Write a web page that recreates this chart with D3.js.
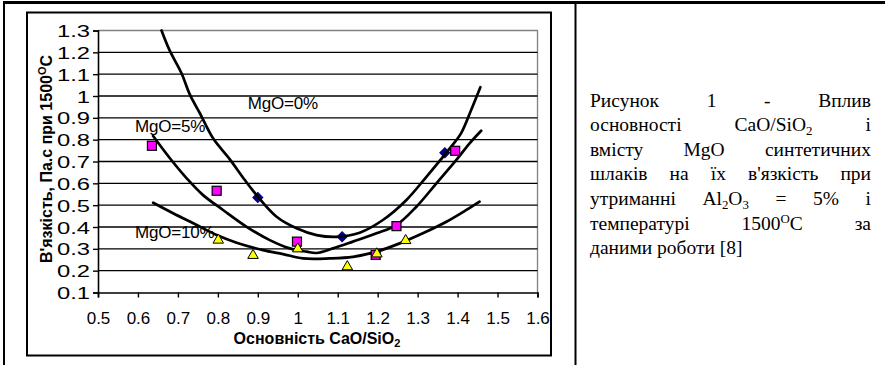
<!DOCTYPE html>
<html><head><meta charset="utf-8">
<script src="https://cdn.jsdelivr.net/npm/d3@7"></script>
<style>body{margin:0;background:#fff}svg{display:block}</style>
</head><body>
<script>
// ---- data ----
const xTicks = [0.5,0.6,0.7,0.8,0.9,1,1.1,1.2,1.3,1.4,1.5,1.6];
const yTicks = [0.1,0.2,0.3,0.4,0.5,0.6,0.7,0.8,0.9,1,1.1,1.2,1.3];

const mg0X = [0.9, 1.111, 1.368];
const mg0Y = [0.535, 0.355, 0.74];
const mg5X = [0.635, 0.797, 0.998, 1.195, 1.247, 1.394];
const mg5Y = [0.772, 0.566, 0.333, 0.272, 0.404, 0.749];
const mg10X = [0.801, 0.888, 1.0, 1.124, 1.198, 1.27];
const mg10Y = [0.34, 0.27, 0.30, 0.218, 0.277, 0.338];

const curve0X = [0.659,0.679,0.709,0.73,0.755,0.788,0.83,0.8675,0.9,0.947,0.997,1.047,1.097,1.155,1.213,1.272,1.322,1.384,1.409,1.434,1.457];
const curve0Y = [1.30,1.21,1.104,1.006,0.921,0.806,0.71,0.615,0.539,0.447,0.394,0.363,0.355,0.374,0.432,0.524,0.63,0.768,0.83,0.936,1.04];
const curve5X = [0.638,0.68,0.722,0.763,0.813,0.872,0.93,0.98,1.022,1.047,1.088,1.138,1.197,1.247,1.297,1.347,1.397,1.43,1.459];
const curve5Y = [0.817,0.715,0.623,0.546,0.478,0.401,0.34,0.302,0.287,0.281,0.302,0.333,0.371,0.409,0.493,0.6,0.707,0.783,0.841];
const curve10X = [0.638,0.688,0.747,0.797,0.847,0.913,0.963,1.013,1.08,1.138,1.197,1.255,1.313,1.372,1.422,1.455];
const curve10Y = [0.511,0.463,0.409,0.363,0.328,0.294,0.276,0.256,0.256,0.263,0.287,0.325,0.371,0.424,0.478,0.516];

const seriesLabels = ["MgO=0%", "MgO=5%", "MgO=10%"];
const labelX = [0.875, 0.5925, 0.5925];
const labelY = [0.94, 0.835, 0.35];

const xTitle = ["Основність CaO/SiO", "2"];
const yTitle = ["В'язкість, Па.с при 1500", "O", "C"];

// caption words; "_" = subscript next char, "^" = superscript next char
const captionLines = [
  ["Рисунок","1","-","Вплив"],
  ["основності","CaO/SiO_2","і"],
  ["вмісту","MgO","синтетичних"],
  ["шлаків","на","їх","в'язкість","при"],
  ["утриманні","Al_2O_3","=","5%","і"],
  ["температурі","1500^OC","за"],
  ["даними","роботи","[8]"]
];

// ---- layout ----
const W = 885, H = 365;
const svg = d3.select("body").append("svg").attr("width", W).attr("height", H)
  .style("background", "#fff");

// table lines
svg.append("line").attr("x1", 3).attr("x2", W).attr("y1", 2.5).attr("y2", 2.5).attr("stroke", "#000").attr("stroke-width", 3);
svg.append("line").attr("x1", 4).attr("x2", 4).attr("y1", 1).attr("y2", H).attr("stroke", "#000").attr("stroke-width", 2);
svg.append("line").attr("x1", 575.5).attr("x2", 575.5).attr("y1", 1).attr("y2", H).attr("stroke", "#000").attr("stroke-width", 2);

// chart frame
svg.append("rect").attr("x", 27).attr("y", 12.5).attr("width", 524).attr("height", 343)
  .attr("fill", "#fff").attr("stroke", "#000").attr("stroke-width", 2);

const pL = 98, pR = 537.5, pT = 30.5, pB = 292.5;
const x = d3.scaleLinear().domain([0.5, 1.6]).range([pL, pR]);
const y = d3.scaleLinear().domain([0.1, 1.3]).range([pB, pT]);

// plot area border (gray)
svg.append("path").attr("d", `M${pL},${pT}H${pR}V${pB}`)
  .attr("fill", "none").attr("stroke", "#808080").attr("stroke-width", 1.3);

// gridlines
svg.append("g").selectAll("line").data(yTicks.filter(v => v > 0.1 && v < 1.3)).join("line")
  .attr("x1", pL).attr("x2", pR)
  .attr("y1", d => y(d)).attr("y2", d => y(d))
  .attr("stroke", "#000").attr("stroke-width", 1.4);

// axes
const font = "Liberation Sans";
const fmt = d => String(+d.toFixed(1));
const yAxis = svg.append("g").attr("transform", `translate(${pL},0)`)
  .call(d3.axisLeft(y).tickValues(yTicks).tickSize(5).tickPadding(3).tickFormat(fmt));
const xAxis = svg.append("g").attr("transform", `translate(0,${pB})`)
  .call(d3.axisBottom(x).tickValues(xTicks).tickSize(5).tickPadding(14).tickFormat(fmt));
[xAxis, yAxis].forEach(g => {
  g.attr("font-family", font).attr("font-size", 17);
  g.select(".domain").attr("stroke", "#000").attr("stroke-width", 1.6);
  g.selectAll(".tick line").attr("stroke", "#000").attr("stroke-width", 1.4);
  g.selectAll("text").attr("fill", "#000");
});
const ySx = 1.4;
yAxis.selectAll("text").attr("dy", "0.36em").attr("x", -8 / ySx).attr("transform", `scale(${ySx},1)`);

// diamonds (MgO=0%)
const sq = d3.symbol(d3.symbolSquare, 50);
svg.append("g").selectAll("path").data(d3.range(mg0X.length)).join("path")
  .attr("d", sq)
  .attr("transform", i => `translate(${x(mg0X[i])},${y(mg0Y[i])}) rotate(45)`)
  .attr("fill", "#000080").attr("stroke", "#000080").attr("stroke-width", 1);

// trend curves
const line = d3.line().x(d => x(d[0])).y(d => y(d[1])).curve(d3.curveCatmullRom.alpha(0.5));
[[curve0X, curve0Y], [curve5X, curve5Y], [curve10X, curve10Y]].forEach(([cx, cy]) => {
  svg.append("path").attr("d", line(cx.map((v, i) => [v, cy[i]])))
    .attr("fill", "none").attr("stroke", "#000").attr("stroke-width", 2.7)
    .attr("stroke-linejoin", "round").attr("stroke-linecap", "round");
});

// squares (MgO=5%)
svg.append("g").selectAll("rect").data(d3.range(mg5X.length)).join("rect")
  .attr("x", i => x(mg5X[i]) - 4.5).attr("y", i => y(mg5Y[i]) - 4.5)
  .attr("width", 9).attr("height", 9)
  .attr("fill", "#ff00ff").attr("stroke", "#000").attr("stroke-width", 1.2);

// triangles (MgO=10%)
const tri = d3.symbol(d3.symbolTriangle, 48);
svg.append("g").selectAll("path").data(d3.range(mg10X.length)).join("path")
  .attr("d", tri)
  .attr("transform", i => `translate(${x(mg10X[i])},${y(mg10Y[i])})`)
  .attr("fill", "#ffff00").attr("stroke", "#000").attr("stroke-width", 1);

// series labels
svg.append("g").selectAll("text").data(seriesLabels).join("text")
  .attr("x", (d, i) => x(labelX[i])).attr("y", (d, i) => y(labelY[i]))
  .attr("font-family", font).attr("font-size", 17).attr("letter-spacing", -0.2).text(d => d);

// axis titles
const xt = svg.append("text").attr("x", 317).attr("y", 344).attr("text-anchor", "middle")
  .attr("font-family", font).attr("font-size", 16).attr("font-weight", "bold");
xt.append("tspan").text(xTitle[0]);
xt.append("tspan").attr("font-size", 11).attr("dy", 3).text(xTitle[1]);

const yt = svg.append("text").attr("transform", "translate(52,159) rotate(-90)").attr("text-anchor", "middle")
  .attr("font-family", font).attr("font-size", 16).attr("font-weight", "bold");
yt.append("tspan").text(yTitle[0]);
yt.append("tspan").attr("font-size", 11).attr("dy", -6).text(yTitle[1]);
yt.append("tspan").attr("dy", 6).text(yTitle[2]);

// caption (justified)
const capFont = "Liberation Serif";
const capSize = 19.5, capLeft = 590, capRight = 871, capTop = 106.5, capLead = 24.6;
function buildWord(g, w) {
  const t = g.append("text").attr("font-family", capFont).attr("font-size", capSize).attr("fill", "#000");
  let i = 0, shift = 0;
  while (i < w.length) {
    const c = w[i];
    if (c === "_" || c === "^") {
      const s = c === "_" ? 4 : -7;
      t.append("tspan").attr("font-size", capSize * 0.66).attr("dy", s - shift).text(w[i + 1]);
      shift = s; i += 2;
    } else {
      let j = i;
      while (j < w.length && w[j] !== "_" && w[j] !== "^") j++;
      t.append("tspan").attr("dy", -shift).text(w.slice(i, j));
      shift = 0; i = j;
    }
  }
  return t;
}
const cap = svg.append("g");
captionLines.forEach((words, li) => {
  const yy = capTop + li * capLead;
  const els = words.map(w => buildWord(cap, w).attr("y", yy));
  const widths = els.map(e => e.node().getComputedTextLength());
  const total = d3.sum(widths);
  const isLast = li === captionLines.length - 1;
  const gap = isLast ? capSize * 0.25 : (capRight - capLeft - total) / (words.length - 1);
  let cx = capLeft;
  els.forEach((e, k) => { e.attr("x", cx); cx += widths[k] + gap; });
});
</script>
</body></html>
